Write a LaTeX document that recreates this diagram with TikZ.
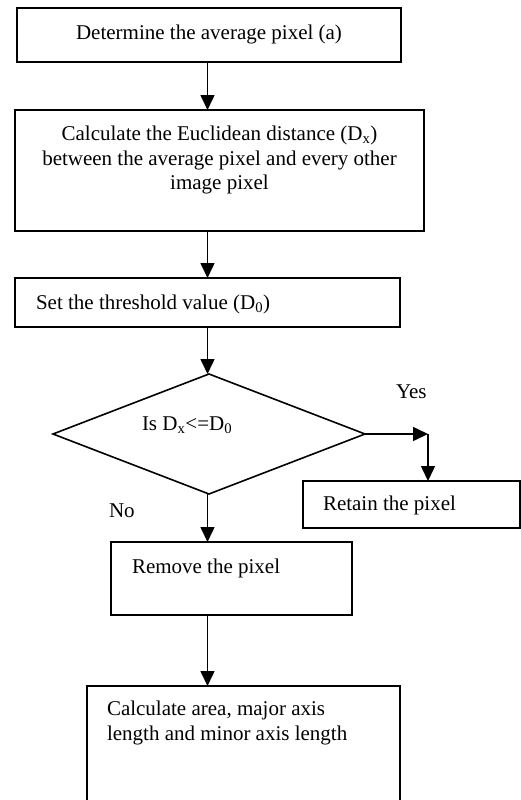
\documentclass[tikz,border=0pt]{standalone}
\usepackage{fontspec}
\setmainfont{Liberation Serif}
\usetikzlibrary{shapes.geometric,arrows.meta}
\begin{document}
\begin{tikzpicture}[x=1pt,y=-1pt,
  every node/.style={font=\fontsize{21}{24.5}\selectfont},
  boxnode/.style={draw,line width=1.6pt,inner sep=0pt,outer sep=0pt},
  txt/.style={inner sep=0pt,outer sep=0pt},
  arr/.style={line width=1.6pt,-{Triangle[length=15pt,width=14pt]}},
  ln/.style={line width=1.6pt}]
\clip (0,0) rectangle (521,800);
\useasboundingbox (0,0) rectangle (521,800);
% boxes
\node[boxnode,minimum width=384pt,minimum height=54pt] (b1) at (209,35) {};
\node[boxnode,minimum width=409pt,minimum height=121pt] (b2) at (219.5,170.5) {};
\node[boxnode,minimum width=385pt,minimum height=49pt] (b3) at (207.5,302.5) {};
\node[boxnode,diamond,minimum width=312pt,minimum height=120pt] (d) at (209,434) {};
\node[boxnode,minimum width=217pt,minimum height=47pt] (b4) at (411.5,504.5) {};
\node[boxnode,minimum width=241pt,minimum height=73pt] (b5) at (231.5,578.5) {};
\node[boxnode,minimum width=313pt,minimum height=130pt] (b6) at (243.5,751) {};
% texts
\node[txt,anchor=base] (t1) at (209,40) {Determine the average pixel (a)};
\node[txt,anchor=north,align=center] (t2) at (219.5,126) {Calculate the Euclidean distance (D\textsubscript{x})\\between the average pixel and every other\\image pixel};
\node[txt,anchor=base west] (t3) at (36,309) {Set the threshold value (D\textsubscript{0})};
\node[txt,anchor=base west] (td) at (142,430) {Is D\textsubscript{x}<=D\textsubscript{0}};
\node[txt,anchor=base west] (yes) at (396,398) {Yes};
\node[txt,anchor=base west] (t4) at (323,510) {Retain the pixel};
\node[txt,anchor=base west] (no) at (109,517) {No};
\node[txt,anchor=base west] (t5) at (132,573) {Remove the pixel};
\node[txt,anchor=north west,align=left] (t6) at (107,701) {Calculate area, major axis\\length and minor axis length};
% connectors
\coordinate (ax) at (207.5,0);
\coordinate (yc) at (428,434);
\draw[arr] (b1.south -| ax) -- (b2.north -| ax);
\draw[arr] (b2.south -| ax) -- (b3.north -| ax);
\draw[arr] (b3.south -| ax) -- (d.north -| ax);
\draw[arr] (d.east) -- (yc);
\draw[arr] (yc) -- (b4.north -| yc);
\draw[arr] (d.south -| ax) -- (b5.north -| ax);
\draw[arr] (b5.south -| ax) -- (b6.north -| ax);
\end{tikzpicture}
\end{document}
